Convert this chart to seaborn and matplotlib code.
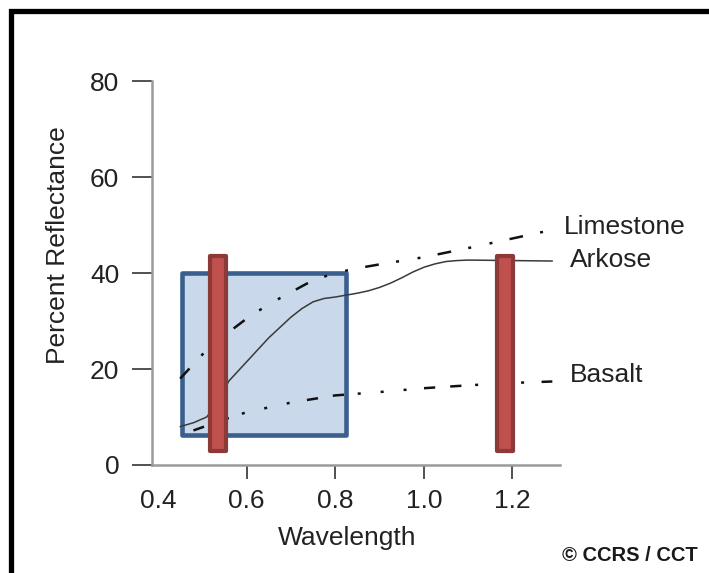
import numpy as np
import pandas as pd
import seaborn as sns
import matplotlib.pyplot as plt
from matplotlib.lines import Line2D

# Reflectance curves
limestone_wl = [0.45, 0.50, 0.55, 0.60, 0.65, 0.70, 0.75, 0.80, 0.85, 0.90, 1.00, 1.10, 1.20, 1.29]
limestone_pct = [18.0, 23.0, 27.0, 30.5, 33.5, 36.0, 38.5, 40.0, 41.0, 41.8, 43.3, 45.2, 47.2, 49.0]

arkose_wl = [0.45, 0.48, 0.51, 0.53, 0.56, 0.60, 0.65, 0.70, 0.725, 0.75, 0.775, 0.80, 0.825,
             0.85, 0.875, 0.90, 0.925, 0.95, 0.975, 1.00, 1.025, 1.05, 1.075, 1.10, 1.20, 1.29]
arkose_pct = [8.0, 8.8, 10.0, 12.5, 17.5, 21.5, 26.5, 30.8, 32.6, 34.0, 34.7, 35.0, 35.4,
              35.8, 36.3, 37.0, 37.9, 39.0, 40.2, 41.2, 41.9, 42.4, 42.6, 42.7, 42.6, 42.5]

basalt_wl = [0.48, 0.55, 0.60, 0.70, 0.80, 0.90, 1.00, 1.10, 1.20, 1.29]
basalt_pct = [7.2, 9.5, 11.0, 13.0, 14.5, 15.2, 16.0, 16.6, 17.1, 17.4]

rock_names = ["Limestone", "Arkose", "Basalt"]
label_pos = [(1.317, 49.6), (1.33, 42.7), (1.33, 18.75)]

# Highlight regions
box_x = [0.454, 0.824]
box_y = [6.25, 40.0]
band_centers = [0.535, 1.184]
band_width = 0.036
band_y = [2.9, 43.5]

x_ticks = [0.4, 0.6, 0.8, 1.0, 1.2]
y_ticks = [0, 20, 40, 60, 80]

TEXT_COLOR = "#222222"
SPINE_COLOR = "#9a9a9a"
BOX_FILL = "#c9d8eb"
BOX_EDGE = "#3a5f8e"
BAND_FILL = "#c0504d"
BAND_EDGE = "#8c3a37"
FONT_SIZE = 19


def main():
    sns.set_style("white")
    plt.rcParams["font.family"] = ["Liberation Sans", "DejaVu Sans"]

    fig = plt.figure(figsize=(7.09, 5.73), dpi=100)
    ax = fig.add_axes([0.2144, 0.1885, 0.5755, 0.670])

    # blue selection box
    ax.bar(x=(box_x[0] + box_x[1]) / 2, height=box_y[1] - box_y[0], bottom=box_y[0],
           width=box_x[1] - box_x[0], color=BOX_FILL, edgecolor=BOX_EDGE,
           linewidth=3.3, joinstyle="round", zorder=1)

    # curves
    df_lime = pd.DataFrame({"wl": limestone_wl, "pct": limestone_pct})
    df_ark = pd.DataFrame({"wl": arkose_wl, "pct": arkose_pct})
    df_bas = pd.DataFrame({"wl": basalt_wl, "pct": basalt_pct})

    sns.lineplot(data=df_lime, x="wl", y="pct", ax=ax, color="#111111", linewidth=1.8, zorder=2)
    ax.lines[-1].set_dashes([5.5, 7, 1.2, 7.5, 1.2, 7])
    sns.lineplot(data=df_ark, x="wl", y="pct", ax=ax, color="#3a3a3a", linewidth=1.1, zorder=2)
    sns.lineplot(data=df_bas, x="wl", y="pct", ax=ax, color="#111111", linewidth=1.8, zorder=2)
    ax.lines[-1].set_dashes([4.5, 6, 4.5, 5.5, 1.2, 8, 1.2, 8, 1.2, 7])

    # red bands
    ax.bar(x=band_centers, height=band_y[1] - band_y[0], bottom=band_y[0], width=band_width,
           color=BAND_FILL, edgecolor=BAND_EDGE, linewidth=3.0, joinstyle="round", zorder=3)

    # curve labels
    for name, (lx, ly) in zip(rock_names, label_pos):
        ax.text(lx, ly, name, fontsize=FONT_SIZE, color=TEXT_COLOR, ha="left", va="center",
                clip_on=False)

    ax.set_xlim(0.3865, 1.3074)
    ax.set_ylim(0, 80)
    ax.set_xticks(x_ticks)
    ax.set_xticklabels([f"{v:.1f}" for v in x_ticks])
    ax.set_yticks(y_ticks)
    ax.tick_params(axis="y", direction="out", length=14.5, width=1.2, color="#333333",
                   pad=9, labelsize=FONT_SIZE, labelcolor=TEXT_COLOR, left=True)
    ax.tick_params(axis="x", direction="out", length=10, width=1.2, color="#333333",
                   pad=7, labelsize=FONT_SIZE, labelcolor=TEXT_COLOR, bottom=True)
    ax.xaxis.get_major_ticks()[0].tick1line.set_visible(False)

    for side in ["top", "right"]:
        ax.spines[side].set_visible(False)
    for side in ["left", "bottom"]:
        ax.spines[side].set_color(SPINE_COLOR)
        ax.spines[side].set_linewidth(1.8)

    ax.set_xlabel("Wavelength", fontsize=FONT_SIZE, color=TEXT_COLOR)
    ax.set_ylabel("Percent Reflectance", fontsize=FONT_SIZE, color=TEXT_COLOR)
    ax.xaxis.set_label_coords(0.478, -0.16)
    ax.yaxis.set_label_coords(-0.201, 0.573)
    ax.set_facecolor("white")

    # credit
    fig.text(0.793, 0.031, "\u00a9 CCRS / CCT", fontsize=14.5, fontweight="bold",
             color="#1a1a1a", ha="left", va="center")

    # black frame (top and left edges visible)
    fx = 10.5 / 709
    fy = 1 - 10.5 / 573
    fig.add_artist(Line2D([fx, fx, 1.01], [-0.01, fy, fy], transform=fig.transFigure,
                          color="black", linewidth=3.8, solid_joinstyle="miter"))

    fig.savefig("out.png", dpi=100)


if __name__ == "__main__":
    main()
